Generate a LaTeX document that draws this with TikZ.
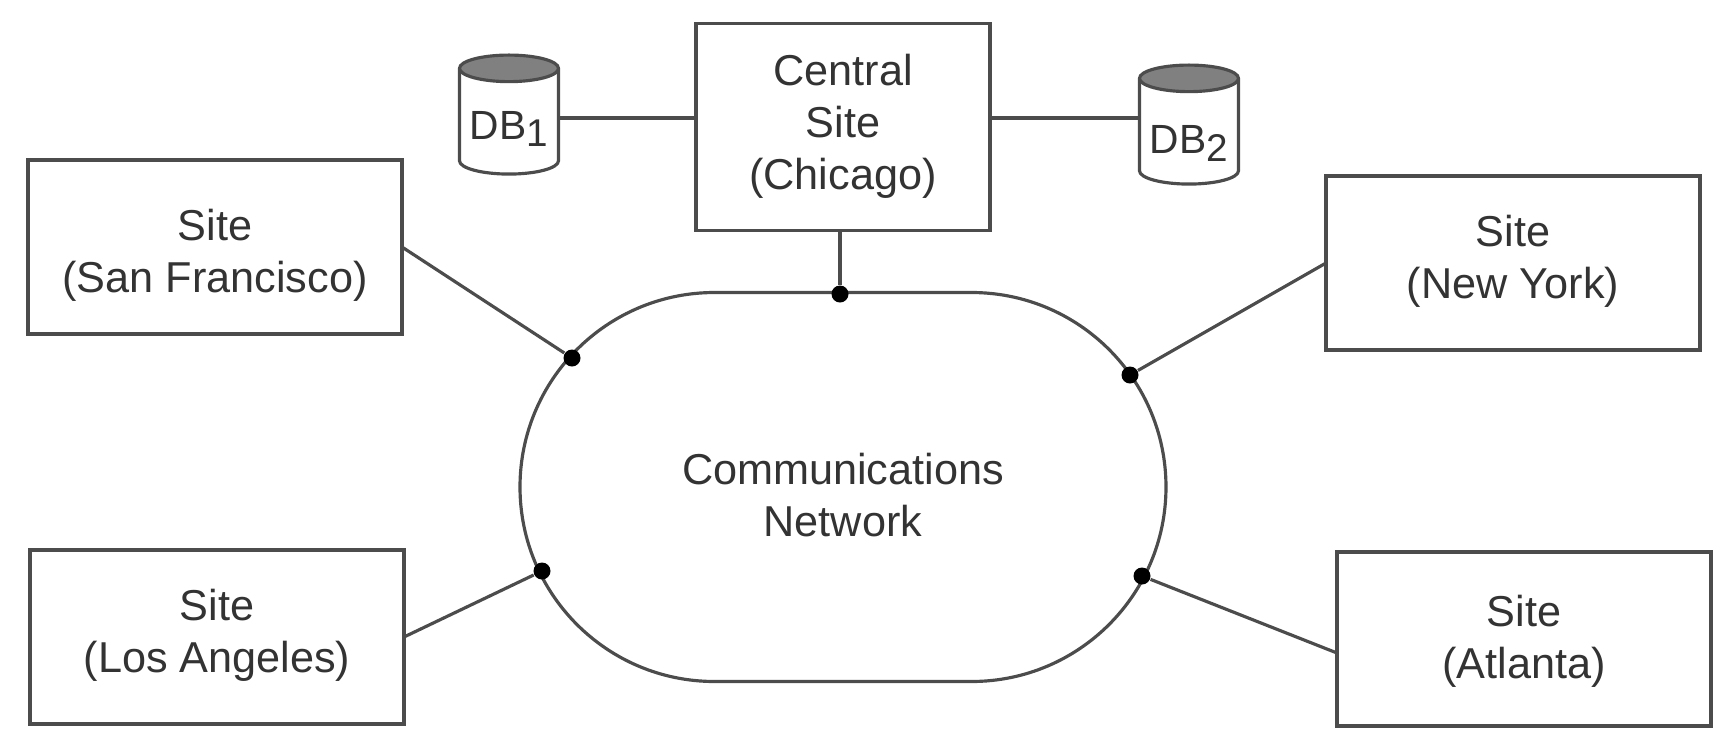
\documentclass[tikz,border=0pt]{standalone}
\usepackage{fontspec}
\setmainfont{Liberation Sans}
\usetikzlibrary{positioning,shapes.geometric,calc}
\definecolor{inkgray}{gray}{0.3}
\definecolor{capgray}{gray}{0.5}
\newcommand{\dbsub}[1]{\raisebox{-0.35ex}{\fontsize{11}{11}\selectfont #1}}
% struts that nudge a label inside its box
\newcommand{\padtop}[1]{\rule{0pt}{#1}}
\newcommand{\padbot}[1]{\rule[-#1]{0pt}{#1}}
\tikzset{
  sitebox/.style={draw=inkgray, line width=0.9pt, fill=white, align=center, outer sep=0pt,
    minimum width=3.74cm, minimum height=1.74cm, font=\fontsize{12.3}{14.8}\selectfont, text=black!80},
  centralbox/.style={sitebox, minimum width=2.94cm, minimum height=2.07cm},
  netbox/.style={sitebox, rounded corners=1.945cm, minimum width=6.46cm, minimum height=3.89cm},
  dbcyl/.style={cylinder, shape border rotate=90, aspect=0.34, draw=inkgray, line width=0.9pt,
    cylinder uses custom fill, cylinder end fill=capgray, cylinder body fill=white, outer sep=0pt,
    minimum width=0.99cm, minimum height=1.19cm, inner sep=0pt, font=\fontsize{11.6}{14}\selectfont, text=black!80},
  joint/.style={circle, fill=black, inner sep=0pt, minimum size=0.17cm},
  link/.style={draw=inkgray, line width=0.9pt}
}
\begin{document}
\begin{tikzpicture}
\useasboundingbox (0,0) rectangle (17.28,7.52);
% Communications network in the middle
\node[netbox] (net) at (8.43,2.65) {\padtop{13.4pt}Communications\\Network};

% Central site and its two databases
\node[centralbox] (central) at (8.43,6.25) {Central\\Site\\(Chicago)\padbot{3.2pt}};
\node[dbcyl] (db1) at (5.09,6.30) {\padtop{12pt}DB\dbsub{1}};
\node[dbcyl] (db2) at (11.89,6.20) {\padtop{14.4pt}DB\dbsub{2}};
\coordinate (dblevel) at (8.43,6.34);

% Outer sites
\node[sitebox] (sf) at (2.15,5.05) {\padtop{13.4pt}Site\\(San Francisco)};
\node[sitebox] (ny) at (15.13,4.89) {Site\\(New York)\padbot{3.5pt}};
\node[sitebox] (la) at (2.17,1.15) {Site\\(Los Angeles)\padbot{3.5pt}};
\node[sitebox] (atl) at (15.24,1.13) {\padtop{10.2pt}Site\\(Atlanta)};
\coordinate (atlport) at (13.37,0.99);

% Joints on the network edge
\node[joint] (jcentral) at (8.40,4.58) {};
\node[joint] (jsf) at (5.72,3.94) {};
\node[joint] (jla) at (5.42,1.81) {};
\node[joint] (jny) at (11.30,3.77) {};
\node[joint] (jatl) at (11.42,1.76) {};

% Connectors
\draw[link] (db1.east |- dblevel) -- (central.west |- dblevel);
\draw[link] (central.east |- dblevel) -- (db2.west |- dblevel);
\draw[link] (central.south -| jcentral) -- (jcentral);
\draw[link] (sf.east) -- (jsf);
\draw[link] (la.east) -- (jla);
\draw[link] (ny.west) -- (jny);
\draw[link] (atlport) -- (jatl);

\end{tikzpicture}
\end{document}
